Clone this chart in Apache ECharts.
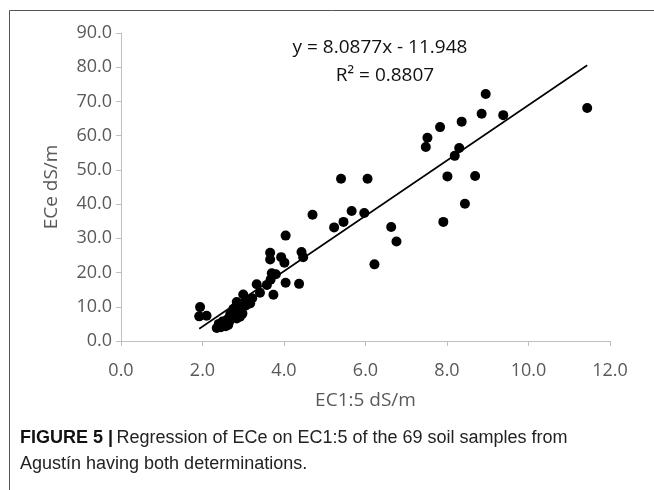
<!DOCTYPE html>
<html><head><meta charset="utf-8">
<script src="https://cdn.jsdelivr.net/npm/echarts@6/dist/echarts.min.js"></script>
<style>html,body{margin:0;padding:0;background:#fff}#c{width:654px;height:490px}</style>
</head><body><div id="c"></div>
<script>
const ec15 = [8.95,11.44,8.85,9.38,8.36,7.83,7.52,7.48,8.30,8.19,8.01,8.69,8.44,7.91,6.05,5.40,5.97,5.66,5.46,5.23,6.63,6.76,6.22,4.70,4.04,3.66,3.66,3.93,4.01,4.43,4.47,3.70,3.80,3.67,4.04,4.37,3.58,3.33,3.41,3.74,3.00,3.07,2.84,3.17,2.76,2.88,1.94,1.92,2.10,2.45,2.49,2.63,2.84,2.92,2.40,2.35,2.55,2.60,2.68,2.72,2.95,3.05,2.98,3.12,2.57,2.80,2.90,3.22,2.65];
const ece = [72.2,68.1,66.4,66.0,64.1,62.5,59.4,56.7,56.4,54.1,48.1,48.2,40.1,34.8,47.4,47.4,37.4,38.0,34.8,33.2,33.3,29.1,22.4,36.9,30.8,25.8,23.8,24.5,22.9,26.0,24.5,19.8,19.5,17.9,17.0,16.7,16.4,16.6,14.1,13.5,13.6,12.0,11.4,11.0,9.4,8.4,9.9,7.2,7.4,4.0,5.7,4.7,6.6,7.1,5.0,3.8,5.2,6.2,7.8,8.6,9.2,10.3,8.0,10.8,4.3,7.3,10.2,12.5,5.5];
const slope = 8.0877, intercept = -11.948;
const equationText = ['y = 8.0877x - 11.948', 'R² = 0.8807'];
const xTicks = {min: 0, max: 12, interval: 2};
const yTicks = {min: 0, max: 90, interval: 10};
const xTitle = 'EC1:5 dS/m', yTitle = 'ECe dS/m';

const pts = ec15.map((x, i) => [x, ece[i]]);
const xmin = Math.min(...ec15), xmax = Math.max(...ec15);
const trend = [[xmin, slope * xmin + intercept], [xmax, slope * xmax + intercept]];

const chart = echarts.init(document.getElementById('c'), null, {renderer: 'canvas'});
const axisFont = {fontFamily: 'Open Sans', fontSize: 18, color: '#595959'};
chart.setOption({
  animation: false,
  grid: {left: 121, right: 44, top: 33, bottom: 149},
  xAxis: {
    type: 'value', min: xTicks.min, max: xTicks.max, interval: xTicks.interval,
    axisLine: {lineStyle: {color: '#bfbfbf', width: 1}},
    axisTick: {show: true, length: 5, lineStyle: {color: '#bfbfbf'}},
    splitLine: {show: false},
    axisLabel: Object.assign({margin: 21, formatter: v => v.toFixed(1)}, axisFont),
    name: xTitle, nameLocation: 'middle', nameGap: 50,
    nameTextStyle: {fontFamily: 'Open Sans', fontSize: 19, color: '#595959'}
  },
  yAxis: {
    type: 'value', min: yTicks.min, max: yTicks.max, interval: yTicks.interval,
    axisLine: {show: true, lineStyle: {color: '#bfbfbf', width: 1}},
    axisTick: {show: true, length: 5, lineStyle: {color: '#bfbfbf'}},
    splitLine: {show: false},
    axisLabel: Object.assign({margin: 9, formatter: v => v.toFixed(1)}, axisFont),
    name: yTitle, nameLocation: 'middle', nameGap: 60, nameRotate: 90,
    nameTextStyle: {fontFamily: 'Open Sans', fontSize: 19, color: '#595959'}
  },
  series: [
    {type: 'line', data: trend, symbol: 'none', lineStyle: {color: '#000', width: 1.6}, z: 2},
    {type: 'scatter', data: pts, symbolSize: 10, itemStyle: {color: '#000', opacity: 1}, z: 3}
  ],
  graphic: [
    {type: 'rect', shape: {x: 9.5, y: 10.5, width: 700, height: 520}, style: {fill: null, stroke: '#555', lineWidth: 1}, silent: true},
    {type: 'text', x: 380, y: 48, style: {text: equationText[0], font: '19px "Open Sans"', fill: '#111', align: 'center', verticalAlign: 'middle'}},
    {type: 'text', x: 385, y: 76, style: {text: equationText[1], font: '19px "Open Sans"', fill: '#111', align: 'center', verticalAlign: 'middle'}},
    {type: 'text', x: 20, y: 438, style: {
      text: '{b|FIGURE 5 |} {r|Regression of ECe on EC1:5 of the 69 soil samples from}',
      rich: {b: {font: 'bold 18px "Liberation Sans"', fill: '#111'}, r: {font: '18px "Liberation Sans"', fill: '#222'}},
      verticalAlign: 'middle'}},
    {type: 'text', x: 20, y: 464, style: {text: 'Agustín having both determinations.', font: '18px "Liberation Sans"', fill: '#222', verticalAlign: 'middle'}}
  ]
});
</script></body></html>
